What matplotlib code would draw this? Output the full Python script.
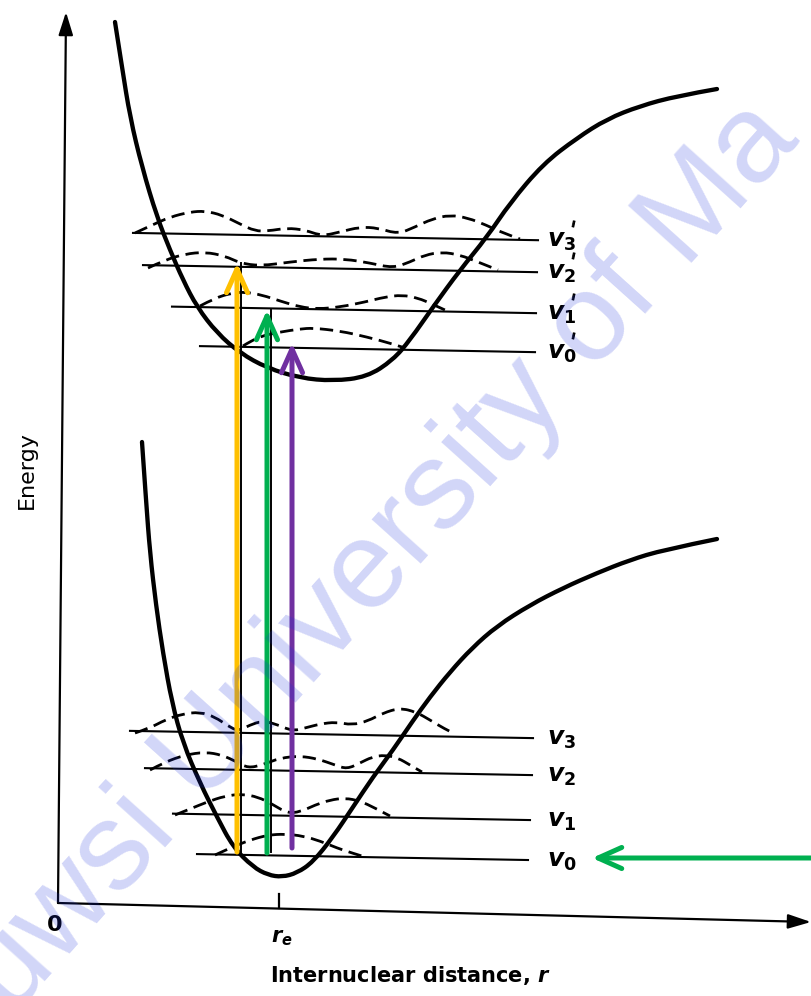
import numpy as np
import matplotlib.pyplot as plt
from matplotlib.path import Path
from matplotlib.patches import PathPatch

plt.rcParams['mathtext.fontset'] = 'custom'
plt.rcParams['mathtext.it'] = 'DejaVu Sans:italic:bold'
plt.rcParams['mathtext.rm'] = 'DejaVu Sans:bold'
plt.rcParams['mathtext.bf'] = 'DejaVu Sans:bold'

# potential energy curves (r, E) in arbitrary units
ground_r = [82, 86, 90, 96, 103, 112, 123, 140, 157, 173, 193, 208, 222, 237, 253,
            273, 293, 313, 333, 352, 370, 390, 412, 437, 470, 503, 537, 570, 603, 657]
ground_E = [468, 410, 357, 305, 257, 207, 167, 127, 93, 63, 43, 35, 33, 37, 48,
            73, 103, 133, 160, 188, 213, 238, 262, 284, 305, 322, 337, 350, 360, 371]

excited_r = [55, 62, 70, 82, 97, 110, 123, 137, 157, 180, 207, 240, 273, 307, 333,
             350, 373, 400, 427, 450, 483, 517, 547, 580, 617, 657]
excited_E = [888, 843, 793, 743, 693, 660, 630, 603, 577, 557, 542, 532, 529, 533, 550,
             570, 603, 640, 673, 707, 746, 772, 791, 804, 814, 821]

# vibrational levels: energy, left end, right end
ground_levels = [53, 93, 138, 175]
ground_left = [137, 113, 85, 70]
ground_right = [468, 470, 472, 473]
ground_labels = ['$v_0$', '$v_1$', '$v_2$', '$v_3$']

excited_levels = [561, 600, 641, 673]
excited_left = [140, 112, 83, 73]
excited_right = [475, 476, 477, 478]
excited_labels = ['$v_0$', '$v_1$', '$v_2$', '$v_3$']

# probability densities (dashed), traced
wave_g0_r = [155, 170, 190, 208, 225, 243, 260, 277, 292, 305]
wave_g0_E = [55, 62, 70, 75, 76, 74, 69, 62, 57, 53]
wave_g1_r = [115, 130, 147, 165, 182, 198, 212, 227, 240, 255, 270, 285, 300, 315, 330]
wave_g1_E = [95, 101, 108, 114, 116, 113, 106, 97, 98, 105, 110, 112, 109, 102, 94]
wave_g2_r = [90, 105, 125, 145, 162, 177, 188, 202, 220, 240, 258, 275, 287, 300, 312,
             325, 338, 350, 362]
wave_g2_E = [140, 148, 155, 158, 155, 148, 142, 145, 152, 154, 151, 145, 141, 147, 153,
             155, 152, 145, 138]
wave_g3_r = [75, 90, 105, 122, 140, 155, 168, 178, 190, 202, 216, 232, 245, 260, 276,
             292, 308, 323, 340, 356, 370, 383, 395]
wave_g3_E = [177, 182, 190, 196, 198, 193, 184, 179, 185, 189, 186, 179, 182, 186, 188,
             185, 189, 197, 202, 198, 190, 182, 176]

wave_e0_r = [183, 197, 220, 240, 253, 280, 307, 333, 345]
wave_e0_E = [564, 573, 578, 581, 582, 579, 573, 566, 562]
wave_e1_r = [140, 155, 172, 185, 202, 220, 240, 258, 280, 305, 325, 342, 358, 372, 385]
wave_e1_E = [604, 612, 617, 618, 615, 609, 603, 601, 603, 608, 613, 615, 612, 606, 600]
wave_e2_r = [88, 105, 125, 145, 165, 180, 200, 230, 260, 285, 310, 333, 350, 365, 382,
             400, 418, 438]
wave_e2_E = [642, 650, 656, 658, 654, 647, 644, 648, 651, 651, 647, 642, 648, 655, 658,
             655, 648, 640]
wave_e3_r = [75, 90, 110, 130, 145, 162, 180, 195, 208, 227, 245, 262, 280, 300, 318,
             338, 355, 372, 390, 408, 426, 443, 460]
wave_e3_E = [677, 684, 693, 698, 699, 695, 686, 679, 679, 682, 680, 674, 678, 683, 682,
             676, 683, 691, 695, 692, 685, 677, 671]

# transitions (colored) and the original thin black ones
arrow_r = [177, 207, 232]
arrow_from = [58, 57, 62]
arrow_to = [647, 600, 567]
arrow_colors = ['#FFC000', '#00B050', '#7030A0']
orig_r = [181, 211]
orig_to = [647, 600]

pump_E = 52
pump_from, pump_to = 752, 532

r_e = 219
SCAN_TILT = 0.018


def smooth(r, e):
    pts = np.column_stack([r, e]).astype(float)
    verts = [pts[0]]
    codes = [Path.MOVETO]
    n = len(pts)
    for i in range(1, n - 1):
        end = pts[i + 1] if i == n - 2 else (pts[i] + pts[i + 1]) / 2
        verts += [pts[i], end]
        codes += [Path.CURVE3, Path.CURVE3]
    return Path(verts, codes)


fig = plt.figure(figsize=(8.12, 9.96), dpi=100)
ax = fig.add_axes([0, 0, 1, 1])
ax.set_xlim(-60, 752)
ax.set_ylim(-86, 910)
ax.axis('off')

# axes arrows
axis_style = '-|>,head_length=0.7,head_width=0.22'
ax.annotate('', xy=(6, 898), xytext=(-2, 7),
            arrowprops=dict(arrowstyle=axis_style, color='k', lw=1.6,
                            shrinkA=0, shrinkB=0, mutation_scale=20))
ax.annotate('', xy=(751, -12), xytext=(-2, 7),
            arrowprops=dict(arrowstyle=axis_style, color='k', lw=1.6,
                            shrinkA=0, shrinkB=0, mutation_scale=20))
ax.plot([r_e, r_e], [2, 16], color='k', lw=1.6)

# potential curves
for r, e in [(ground_r, ground_E), (excited_r, excited_E)]:
    ax.add_patch(PathPatch(smooth(r, e), fill=False, lw=3.1, ec='k',
                           capstyle='round', zorder=3))

# levels
for levels, left, right, labels, primed in [
        (ground_levels, ground_left, ground_right, ground_labels, False),
        (excited_levels, excited_left, excited_right, excited_labels, True)]:
    for E, r0, r1, lab in zip(levels, left, right, labels):
        rr = np.array([r0, r1], dtype=float)
        ax.plot(rr, E - SCAN_TILT * (rr - 300), color='k', lw=1.5, zorder=2)
        ax.text(487, E - 10, lab, fontsize=18, ha='left', va='baseline', color='k')
        if primed:
            ax.text(505, E - 2, "'", fontsize=17, fontweight='bold',
                    ha='left', va='baseline', color='k', rotation=-12)

# wavefunctions
waves = [(wave_g0_r, wave_g0_E), (wave_g1_r, wave_g1_E), (wave_g2_r, wave_g2_E),
         (wave_g3_r, wave_g3_E), (wave_e0_r, wave_e0_E), (wave_e1_r, wave_e1_E),
         (wave_e2_r, wave_e2_E), (wave_e3_r, wave_e3_E)]
for r, e in waves:
    ax.add_patch(PathPatch(smooth(r, e), fill=False, lw=2.0, ec='k',
                           ls=(0, (4.8, 2.4)), zorder=2))

# original thin transition lines
for r, top in zip(orig_r, orig_to):
    ax.plot([r, r], [58, top], color='k', lw=1.4, zorder=2)

# colored transitions
head = '->,head_length=0.85,head_width=0.38'
for r, e0, e1, c in zip(arrow_r, arrow_from, arrow_to, arrow_colors):
    ax.annotate('', xy=(r, e1), xytext=(r, e0),
                arrowprops=dict(arrowstyle=head, color=c, lw=3.6, shrinkA=0, shrinkB=0,
                                mutation_scale=20, capstyle='round', joinstyle='round'),
                zorder=5)
ax.annotate('', xy=(pump_to, pump_E), xytext=(pump_from, pump_E),
            arrowprops=dict(arrowstyle=head, color='#00B050', lw=3.6, shrinkA=0, shrinkB=0,
                            mutation_scale=20, capstyle='round', joinstyle='round'),
            zorder=5)

# labels
ax.text(-5, -15, '0', fontsize=16, fontweight='bold', ha='center', va='center')
ax.text(222, -28, '$r_e$', fontsize=15, ha='center', va='center')
ax.text(350, -65, 'Internuclear distance, $r$', fontsize=15, fontweight='bold',
        ha='center', va='center')
ax.text(-33, 440, 'Energy', fontsize=16, rotation=90, ha='center', va='center')

# watermark
ax.text(-96, -162, 'Tuwsi University of Ma', rotation=48, rotation_mode='anchor',
        ha='left', va='baseline', fontsize=90, family='Liberation Sans',
        color='#1e32dc', alpha=0.2, zorder=10, clip_on=False)

fig.savefig('out.png', dpi=100)
